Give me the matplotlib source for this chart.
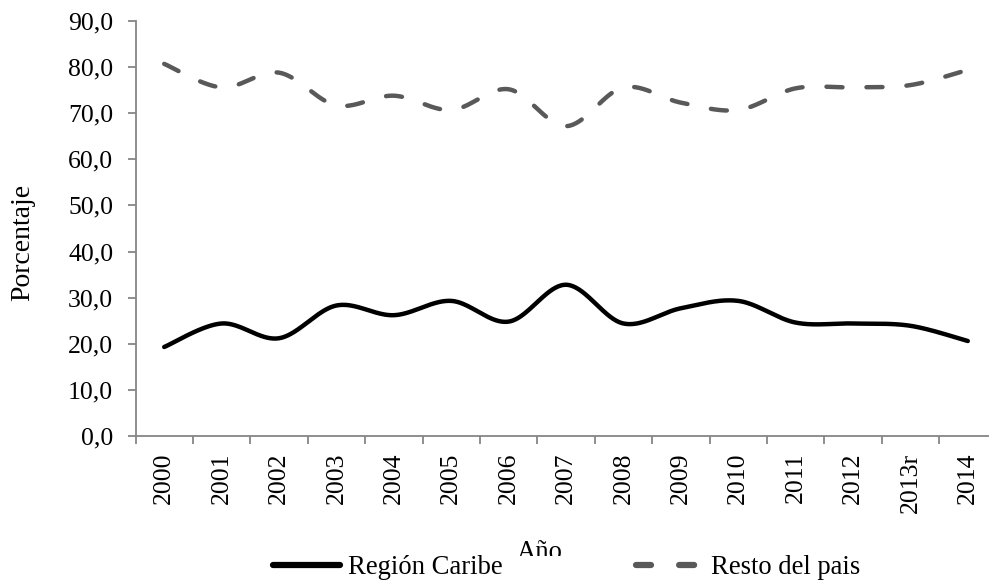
import numpy as np
import matplotlib
matplotlib.use("Agg")
import matplotlib.pyplot as plt
from matplotlib.lines import Line2D

years = ["2000", "2001", "2002", "2003", "2004", "2005", "2006", "2007",
         "2008", "2009", "2010", "2011", "2012", "2013r", "2014"]
caribe = [19.3, 24.4, 21.2, 28.3, 26.2, 29.3, 24.8, 32.8,
          24.4, 27.7, 29.3, 24.6, 24.4, 23.9, 20.6]
resto = [80.7, 75.6, 78.8, 71.7, 73.8, 70.7, 75.2, 67.2,
         75.6, 72.3, 70.7, 75.4, 75.6, 76.1, 79.4]
yticks = [0, 10, 20, 30, 40, 50, 60, 70, 80, 90]


def smooth(xs, ys, n=40):
    xs = np.asarray(xs, float)
    ys = np.asarray(ys, float)
    px = np.concatenate([[xs[0]], xs, [xs[-1]]])
    py = np.concatenate([[ys[0]], ys, [ys[-1]]])
    ox, oy = [], []
    t = np.linspace(0, 1, n)
    for i in range(1, len(px) - 2):
        p0 = np.array([px[i - 1], py[i - 1]])
        p1 = np.array([px[i], py[i]])
        p2 = np.array([px[i + 1], py[i + 1]])
        p3 = np.array([px[i + 2], py[i + 2]])
        c1 = p1 + (p2 - p0) / 6.0
        c2 = p2 - (p3 - p1) / 6.0
        b = ((1 - t) ** 3)[:, None] * p1 + (3 * (1 - t) ** 2 * t)[:, None] * c1 \
            + (3 * (1 - t) * t ** 2)[:, None] * c2 + (t ** 3)[:, None] * p2
        if i > 1:
            b = b[1:]
        ox.extend(b[:, 0])
        oy.extend(b[:, 1])
    return np.array(ox), np.array(oy)


plt.rcParams['font.family'] = ['Liberation Serif', 'DejaVu Serif']
FS = 18.5
FSL = 19.2

W, H = 989, 584
fig = plt.figure(figsize=(W / 100, H / 100), dpi=100)
ax = fig.add_axes([135.5 / W, (H - 436) / H, 861 / W, 415 / H])

x = np.arange(len(years))
sx, sy = smooth(x, caribe)
ax.plot(sx, sy, color='black', lw=3.2, solid_capstyle='round', zorder=3)
rx, ry = smooth(x, resto)
ax.plot(rx, ry, color='#595959', lw=3.2, dashes=(3.6, 5.4),
        dash_capstyle='round', zorder=3)

ax.set_xlim(-0.5, len(years) - 0.5)
ax.set_ylim(0, 90)
ax.set_yticks(yticks)
ax.set_yticklabels([f"{v:.1f}".replace('.', ',') for v in yticks], fontsize=FS)
ax.set_xticks(x)
ax.set_xticklabels(years, rotation=90, fontsize=FS)
ax.set_xticks(np.arange(-0.5, len(years), 1.0), minor=True)
ax.tick_params(axis='x', which='major', length=0, pad=12)
ax.tick_params(axis='x', which='minor', length=6, color='#868686', width=1.3)
ax.tick_params(axis='y', length=6, color='#868686', width=1.3, pad=10)

for s in ['top', 'right']:
    ax.spines[s].set_visible(False)
for s in ['left', 'bottom']:
    ax.spines[s].set_color('#868686')
    ax.spines[s].set_linewidth(1.3)

fig.text(23 / W, 1 - 242 / H, 'Porcentaje', rotation=90, ha='center',
         va='center', fontsize=20)
fig.text(540 / W, 1 - 559 / H, 'Año', ha='center', va='baseline', fontsize=FSL)

handles = [Line2D([], [], color='black', lw=4.5, solid_capstyle='round'),
           Line2D([], [], color='#595959', lw=4.5, dashes=(2.4, 4.5),
                  dash_capstyle='round')]
leg = fig.legend(handles, ['Región Caribe', 'Resto del pais'], ncol=2,
                 loc='center', bbox_to_anchor=(0.573, 1 - 568 / H), fontsize=FSL,
                 frameon=True, facecolor='white', edgecolor='none', framealpha=1,
                 handlelength=2.5, handletextpad=0.3, columnspacing=5.0,
                 borderpad=0.0, borderaxespad=0)
leg.set_zorder(10)

fig.savefig('out.png', dpi=100)
